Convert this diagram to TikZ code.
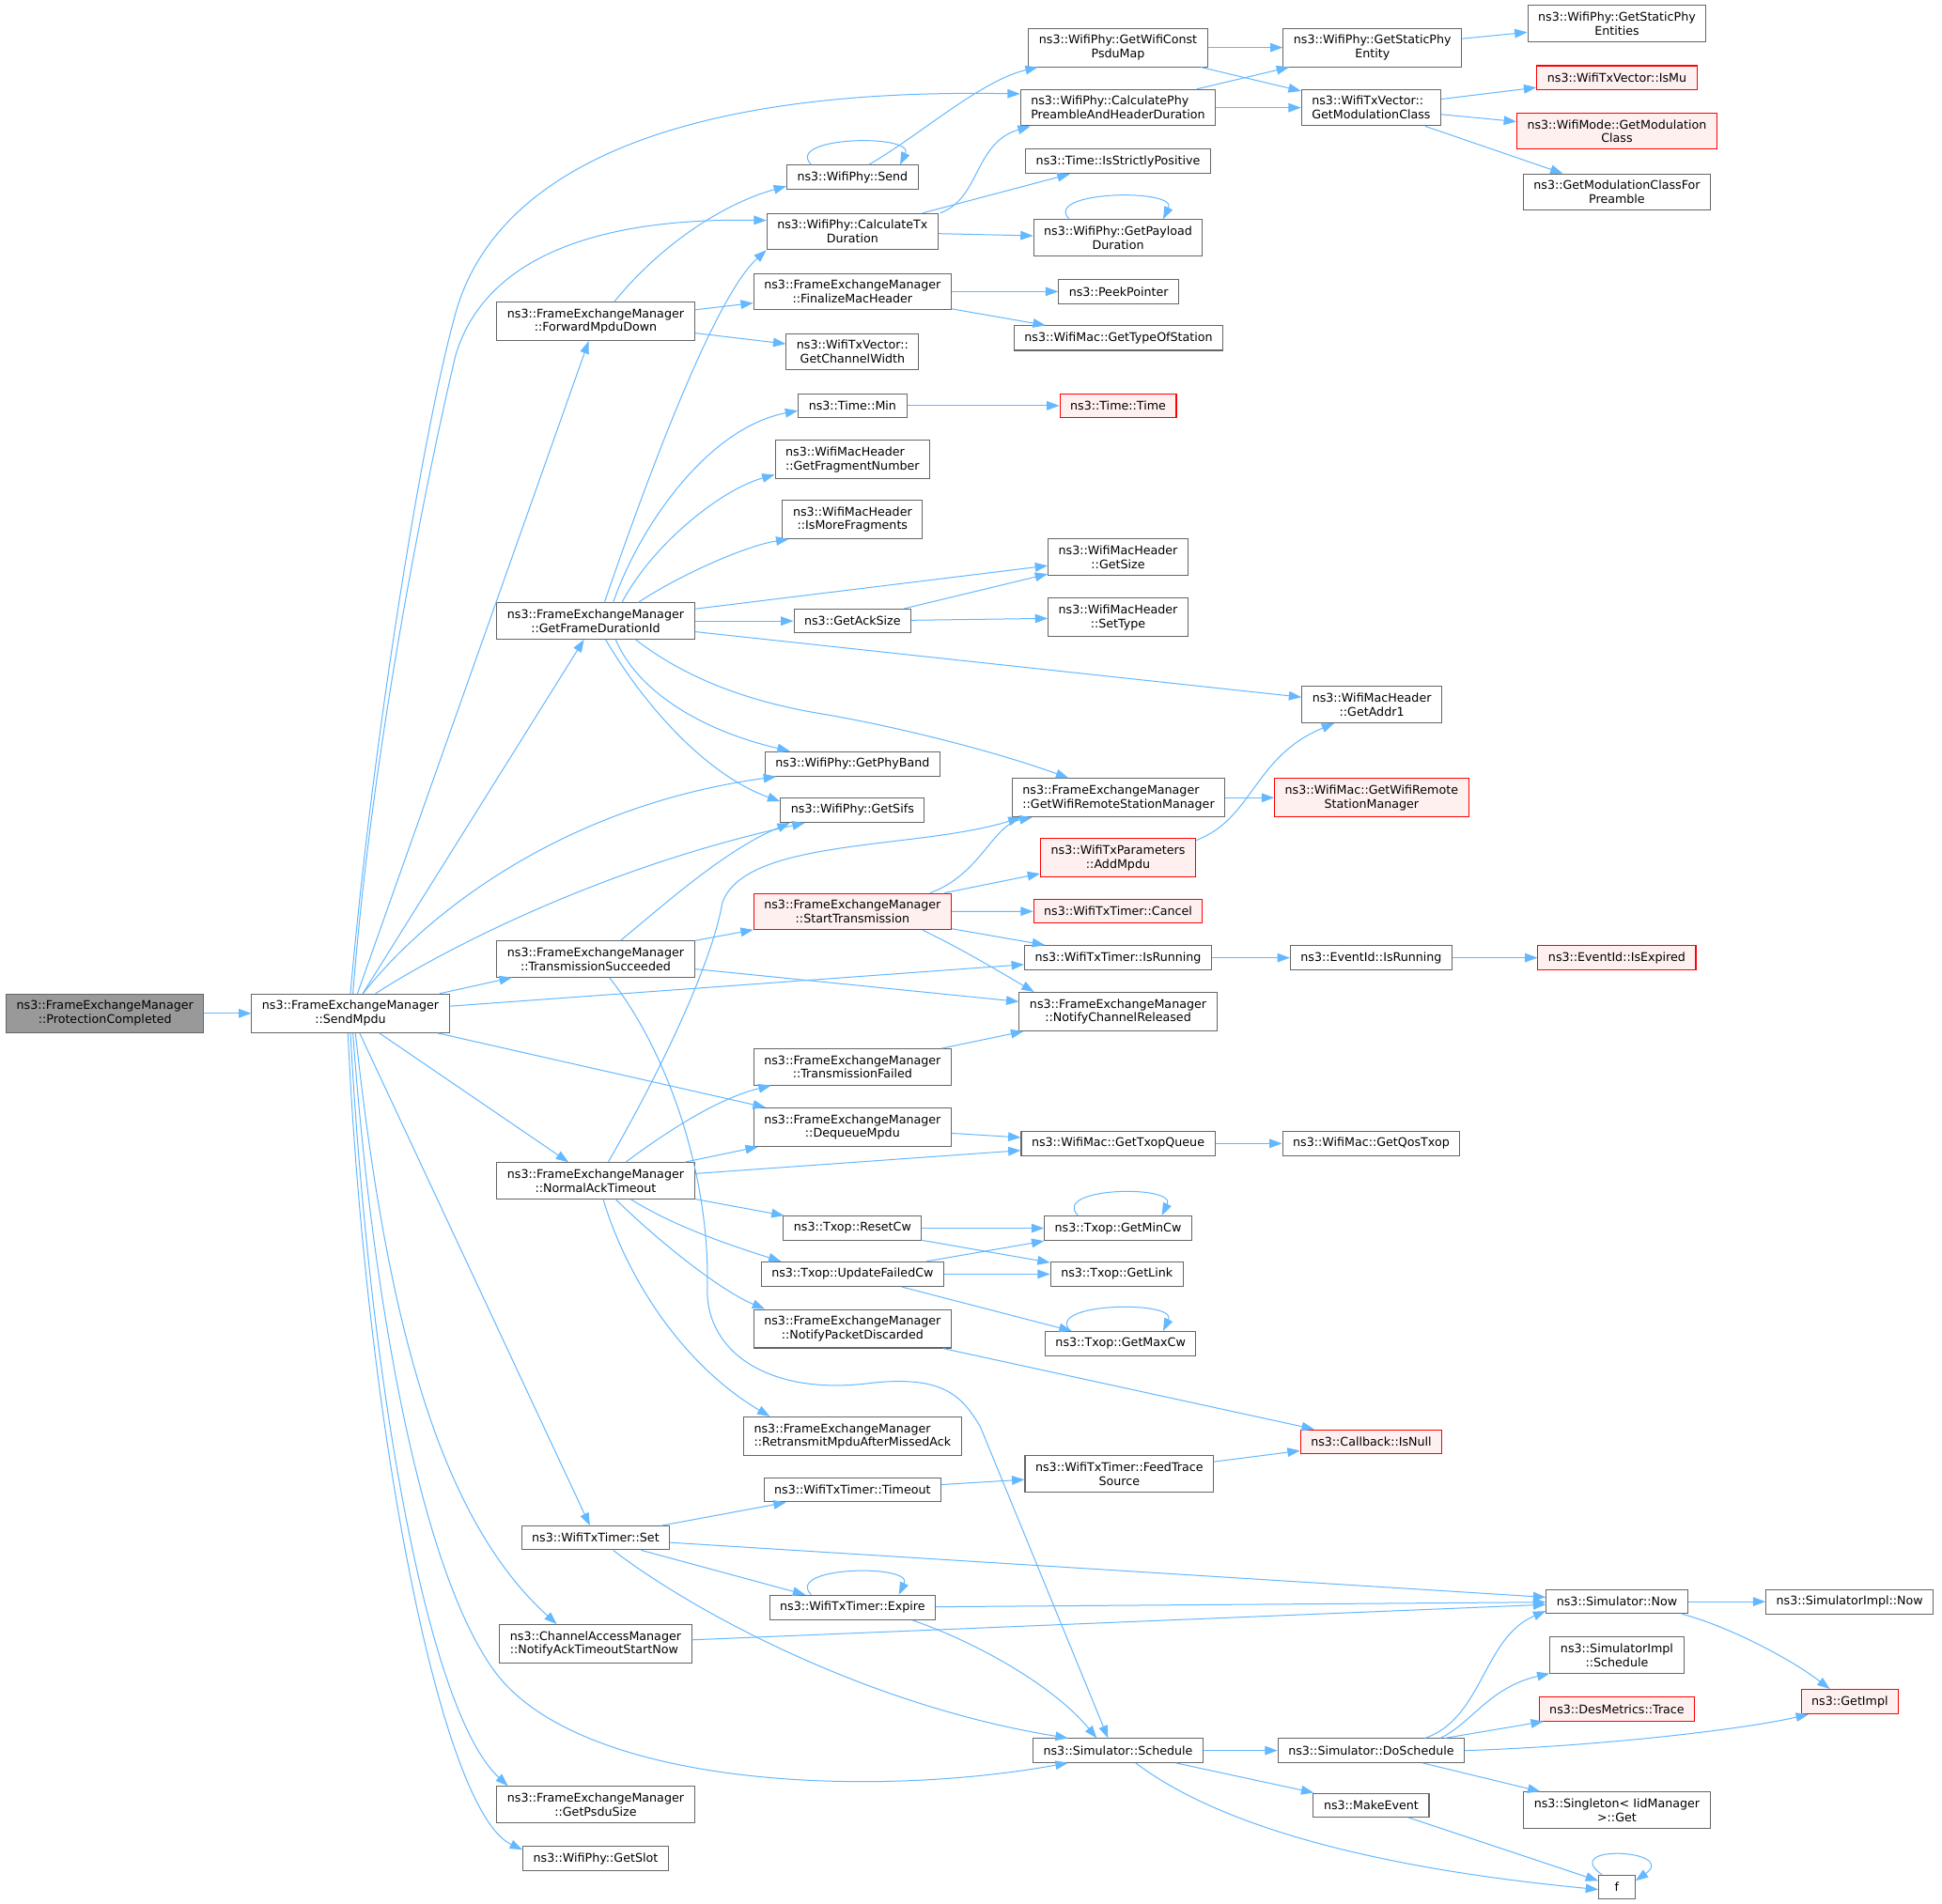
\documentclass[tikz,border=0pt]{standalone}
\usepackage{fontspec}
\setmainfont{DejaVu Sans}
\usetikzlibrary{arrows.meta}
\definecolor{edgeblue}{HTML}{63B8FF}
\definecolor{boxgray}{HTML}{666666}
\definecolor{rootgray}{HTML}{999999}
\definecolor{redfill}{HTML}{FFF0F0}
\definecolor{redline}{HTML}{FF0000}
\begin{document}
\begin{tikzpicture}[x=0.9906pt,y=-0.9906pt]
		\tikzstyle{fn}=[draw=boxgray, line width=0.8pt, fill=white, inner xsep=8.3pt, inner ysep=5.2pt, minimum height=19pt, align=center, font=\fontsize{9.5}{11.1}\selectfont]
		\tikzstyle{fnl}=[fn, align=left]
		\tikzstyle{fnred}=[fn, draw=redline, fill=redfill]
		\tikzstyle{fnroot}=[fn, fill=rootgray]
		\tikzstyle{call}=[draw=edgeblue, line width=0.75pt, -{Triangle[length=10pt,width=7.2pt]}]
		\fill[white] (0,0) rectangle (1565,1534.7);
		\useasboundingbox (0,0) rectangle (1565,1534.7);

		% Caller and SendMpdu
		\node[fnroot] (PC) at (84.6,816.8) {ns3::FrameExchangeManager\\::ProtectionCompleted};
		\node[fn] (SM) at (282.4,816.8) {ns3::FrameExchangeManager\\::SendMpdu};

		% Column 2
		\node[fn] (FMD) at (480,259) {ns3::FrameExchangeManager\\::ForwardMpduDown};
		\node[fn] (GFD) at (480,500.6) {ns3::FrameExchangeManager\\::GetFrameDurationId};
		\node[fn] (TS) at (480,773) {ns3::FrameExchangeManager\\::TransmissionSucceeded};
		\node[fn] (NAT) at (480,951.7) {ns3::FrameExchangeManager\\::NormalAckTimeout};
		\node[fn] (WTS) at (480,1239.6) {ns3::WifiTxTimer::Set};
		\node[fnl] (CAM) at (480,1325) {ns3::ChannelAccessManager\\::NotifyAckTimeoutStartNow};
		\node[fn] (GPS) at (480,1454.5) {ns3::FrameExchangeManager\\::GetPsduSize};
		\node[fn] (GSlot) at (480,1498) {ns3::WifiPhy::GetSlot};

		% Column 3
		\node[fn] (Send) at (687,143) {ns3::WifiPhy::Send};
		\node[fn] (CTD) at (687,186.7) {ns3::WifiPhy::CalculateTx\\Duration};
		\node[fn] (FMH) at (687,235) {ns3::FrameExchangeManager\\::FinalizeMacHeader};
		\node[fn] (GCW) at (687,283.5) {ns3::WifiTxVector::\\GetChannelWidth};
		\node[fn] (TMin) at (687,327) {ns3::Time::Min};
		\node[fnl] (GFN) at (687,370.5) {ns3::WifiMacHeader\\::GetFragmentNumber};
		\node[fn] (IMF) at (687,418.7) {ns3::WifiMacHeader\\::IsMoreFragments};
		\node[fn] (GAS) at (687,500.6) {ns3::GetAckSize};
		\node[fn] (GPB) at (687,615.7) {ns3::WifiPhy::GetPhyBand};
		\node[fn] (GSifs) at (687,653) {ns3::WifiPhy::GetSifs};
		\node[fnred] (ST) at (687,734.7) {ns3::FrameExchangeManager\\::StartTransmission};
		\node[fn] (TF) at (687,860) {ns3::FrameExchangeManager\\::TransmissionFailed};
		\node[fn] (DM) at (687,908.5) {ns3::FrameExchangeManager\\::DequeueMpdu};
		\node[fn] (RCW) at (687,990) {ns3::Txop::ResetCw};
		\node[fn] (UFC) at (687,1027) {ns3::Txop::UpdateFailedCw};
		\node[fn] (NPD) at (687,1071) {ns3::FrameExchangeManager\\::NotifyPacketDiscarded};
		\node[fnl] (RMA) at (687,1157.6) {ns3::FrameExchangeManager\\::RetransmitMpduAfterMissedAck};
		\node[fn] (TTO) at (687,1201) {ns3::WifiTxTimer::Timeout};
		\node[fn] (EXP) at (687,1295.7) {ns3::WifiTxTimer::Expire};

		% Column 4
		\node[fn] (GWCPM) at (901,38.3) {ns3::WifiPhy::GetWifiConst\\PsduMap};
		\node[fnl] (CPPH) at (901,86.8) {ns3::WifiPhy::CalculatePhy\\PreambleAndHeaderDuration};
		\node[fn] (ISP) at (901,130) {ns3::Time::IsStrictlyPositive};
		\node[fn] (GPD) at (901,191.6) {ns3::WifiPhy::GetPayload\\Duration};
		\node[fn] (PP) at (901.5,235) {ns3::PeekPointer};
		\node[fn] (GTOS) at (901.4,272.5) {ns3::WifiMac::GetTypeOfStation};
		\node[fnred] (TT) at (901,327) {ns3::Time::Time};
		\node[fn] (GSize) at (901,449) {ns3::WifiMacHeader\\::GetSize};
		\node[fn] (SetType) at (901,497.7) {ns3::WifiMacHeader\\::SetType};
		\node[fnl] (GWRSM) at (901.4,643) {ns3::FrameExchangeManager\\::GetWifiRemoteStationManager};
		\node[fnred] (AddMpdu) at (901,691.5) {ns3::WifiTxParameters\\::AddMpdu};
		\node[fnred] (Cancel) at (901,734.6) {ns3::WifiTxTimer::Cancel};
		\node[fn] (IsRun) at (901,772) {ns3::WifiTxTimer::IsRunning};
		\node[fn] (NCR) at (901,815.4) {ns3::FrameExchangeManager\\::NotifyChannelReleased};
		\node[fn] (GTQ) at (901,921.7) {ns3::WifiMac::GetTxopQueue};
		\node[fn] (GMinCw) at (901,990) {ns3::Txop::GetMinCw};
		\node[fn] (GLink) at (900,1027) {ns3::Txop::GetLink};
		\node[fn] (GMaxCw) at (903,1083) {ns3::Txop::GetMaxCw};
		\node[fn] (FTS) at (902,1188) {ns3::WifiTxTimer::FeedTrace\\Source};
		\node[fn] (SS) at (901,1411) {ns3::Simulator::Schedule};

		% Column 5
		\node[fn] (GSPE) at (1106,38.3) {ns3::WifiPhy::GetStaticPhy\\Entity};
		\node[fnl] (GMC) at (1105,86.8) {ns3::WifiTxVector::\\GetModulationClass};
		\node[fn] (GA1) at (1105.5,568) {ns3::WifiMacHeader\\::GetAddr1};
		\node[fnred] (GWRSM2) at (1105.3,643) {ns3::WifiMac::GetWifiRemote\\StationManager};
		\node[fn] (EIR) at (1105,772) {ns3::EventId::IsRunning};
		\node[fn] (GQT) at (1105,921.7) {ns3::WifiMac::GetQosTxop};
		\node[fnred] (IsNull) at (1105,1162) {ns3::Callback::IsNull};
		\node[fn] (DoSched) at (1105,1411) {ns3::Simulator::DoSchedule};
		\node[fn] (ME) at (1105,1455) {ns3::MakeEvent};

		% Column 6
		\node[fn] (GSPEs) at (1303,18.9) {ns3::WifiPhy::GetStaticPhy\\Entities};
		\node[fnred] (IsMu) at (1303,62.6) {ns3::WifiTxVector::IsMu};
		\node[fnred] (GMC2) at (1303,105.8) {ns3::WifiMode::GetModulation\\Class};
		\node[fn] (GMCFP) at (1303,154.8) {ns3::GetModulationClassFor\\Preamble};
		\node[fnred] (IsExp) at (1303,772) {ns3::EventId::IsExpired};
		\node[fn] (SNow) at (1303,1291) {ns3::Simulator::Now};
		\node[fn] (SIS) at (1303,1334) {ns3::SimulatorImpl\\::Schedule};
		\node[fnred] (DMT) at (1303,1377.6) {ns3::DesMetrics::Trace};
		\node[fn] (SGet) at (1303,1459) {ns3::Singleton< IidManager\\>::Get};
		\node[fn, minimum width=29pt] (f) at (1303,1521) {f};

		% Column 7
		\node[fn] (SIN) at (1490.6,1291) {ns3::SimulatorImpl::Now};
		\node[fnred] (GImpl) at (1490.7,1371.6) {ns3::GetImpl};

		% Straight calls
		\draw[call] (PC) -- (SM);
		\draw[call] (SM) -- (FMD);
		\draw[call] (SM) -- (GFD);
		\draw[call] (SM) -- (TS);
		\draw[call] (SM) -- (IsRun);
		\draw[call] (SM) -- (DM);
		\draw[call] (SM) -- (NAT);
		\draw[call] (SM) -- (WTS);
		\draw[call] (FMD) -- (FMH);
		\draw[call] (FMD) -- (GCW);
		\draw[call] (CTD) -- (ISP);
		\draw[call] (CTD) -- (GPD);
		\draw[call] (GWCPM) -- (GSPE);
		\draw[call] (GWCPM) -- (GMC);
		\draw[call] (CPPH) -- (GSPE);
		\draw[call] (CPPH) -- (GMC);
		\draw[call] (GSPE) -- (GSPEs);
		\draw[call] (GMC) -- (IsMu);
		\draw[call] (GMC) -- (GMC2);
		\draw[call] (GMC) -- (GMCFP);
		\draw[call] (FMH) -- (PP);
		\draw[call] (FMH) -- (GTOS);
		\draw[call] (TMin) -- (TT);
		\draw[call] (GFD) -- (GSize);
		\draw[call] (GFD) -- (GAS);
		\draw[call] (GFD) -- (GA1);
		\draw[call] (GAS) -- (GSize);
		\draw[call] (GAS) -- (SetType);
		\draw[call] (GWRSM) -- (GWRSM2);
		\draw[call] (TS) -- (ST);
		\draw[call] (TS) -- (NCR);
		\draw[call] (ST) -- (AddMpdu);
		\draw[call] (ST) -- (Cancel);
		\draw[call] (ST) -- (IsRun);
		\draw[call] (IsRun) -- (EIR);
		\draw[call] (EIR) -- (IsExp);
		\draw[call] (NAT) -- (DM);
		\draw[call] (NAT) -- (GTQ);
		\draw[call] (NAT) -- (RCW);
		\draw[call] (TF) -- (NCR);
		\draw[call] (DM) -- (GTQ);
		\draw[call] (GTQ) -- (GQT);
		\draw[call] (RCW) -- (GMinCw);
		\draw[call] (RCW) -- (GLink);
		\draw[call] (UFC) -- (GMinCw);
		\draw[call] (UFC) -- (GLink);
		\draw[call] (UFC) -- (GMaxCw);
		\draw[call] (NPD) -- (IsNull);
		\draw[call] (TTO) -- (FTS);
		\draw[call] (FTS) -- (IsNull);
		\draw[call] (WTS) -- (TTO);
		\draw[call] (WTS) -- (SNow);
		\draw[call] (WTS) -- (EXP);
		\draw[call] (EXP) -- (SNow);
		\draw[call] (CAM) -- (SNow);
		\draw[call] (SS) -- (DoSched);
		\draw[call] (SS) -- (ME);
		\draw[call] (ME) -- (f);
		\draw[call] (DoSched) -- (DMT);
		\draw[call] (DoSched) -- (SGet);
		\draw[call] (SNow) -- (SIN);

		% Curved calls from SendMpdu
		\draw[call] (SM.north) .. controls (300,600) and (340,350) .. (367,253) .. controls (395,150) and (520,70) .. ([yshift=11]CPPH.west);
		\draw[call] ([xshift=2]SM.north) .. controls (300,600) and (345,380) .. (367,287) .. controls (385,225) and (450,175) .. ([yshift=9]CTD.west);
		\draw[call] ([xshift=10]SM.north) .. controls (340,740) and (450,650) .. ([xshift=-61]GPB.south);
		\draw[call] ([xshift=20]SM.north) .. controls (350,770) and (480,700) .. ([xshift=-38]GSifs.south);
		\draw[call] ([xshift=4]SM.south) .. controls (310,1050) and (350,1220) .. ([xshift=-31]CAM.north);
		\draw[call] ([xshift=2]SM.south) .. controls (300,1050) and (340,1270) .. (400,1349) .. controls (470,1440) and (700,1450) .. ([xshift=-40]SS.south);
		\draw[call] (SM.south) .. controls (298,1120) and (345,1380) .. ([xshift=-70]GPS.north);
		\draw[call] ([xshift=-2]SM.south) .. controls (295,1150) and (355,1460) .. ([yshift=7]GSlot.west);

		% Upper calls
		\draw[call] ([xshift=15]FMD.north) .. controls (530,200) and (580,165) .. ([yshift=-7]Send.west);
		\draw[call] ([xshift=-33]Send.north) .. controls +(-22,-23) and +(12,-25) .. ([xshift=38]Send.north);
		\draw[call] ([xshift=13]Send.north) .. controls (740,110) and (790,65) .. ([xshift=-64]GWCPM.south);
		\draw[call] ([xshift=70]CTD.north) .. controls (790,160) and (785,115) .. ([xshift=-70]CPPH.south);
		\draw[call] ([xshift=-39]GPD.north) .. controls +(-22,-23) and +(12,-25) .. ([xshift=36]GPD.north);

		% GetFrameDurationId
		\draw[call] ([xshift=7]GFD.north) .. controls (520,390) and (575,240) .. (CTD.south west);
		\draw[call] ([xshift=14]GFD.north) .. controls (515,425) and (570,345) .. ([yshift=-4]TMin.west);
		\draw[call] ([xshift=21]GFD.north) .. controls (525,440) and (580,395) .. ([yshift=-12]GFN.west);
		\draw[call] ([xshift=34]GFD.north) .. controls (545,465) and (600,440) .. ([xshift=-51]IMF.south);
		\draw[call] ([xshift=32]GFD.south) .. controls (550,545) and (600,565) .. (660,575) .. controls (720,585) and (800,605) .. ([xshift=-40]GWRSM.north);
		\draw[call] ([xshift=16]GFD.south) .. controls (515,560) and (570,590) .. ([xshift=-50]GPB.north);
		\draw[call] ([xshift=8]GFD.south) .. controls (520,570) and (570,625) .. ([yshift=7]GSifs.west);
		\draw[call] ([yshift=14]AddMpdu.east) .. controls (1010,660) and (1010,610) .. ([xshift=-30]GA1.south);

		% TransmissionSucceeded and StartTransmission
		\draw[call] ([xshift=20]TS.north) .. controls (540,725) and (585,685) .. ([xshift=-50]GSifs.south);
		\draw[call] ([xshift=11]TS.south) .. controls (540,850) and (572,950) .. (570,1037) .. controls (568,1090) and (620,1125) .. (700,1115) .. controls (760,1108) and (775,1125) .. (790,1150) -- ([xshift=-8]SS.north);
		\draw[call] ([xshift=62]ST.north) .. controls (790,705) and (800,665) .. ([xshift=-69]GWRSM.south);
		\draw[call] ([xshift=56]ST.south) .. controls (775,765) and (800,780) .. ([xshift=-67]NCR.north);

		% NormalAckTimeout
		\draw[call] ([xshift=10]NAT.north) .. controls (540,850) and (575,770) .. (582,728) .. controls (600,675) and (740,685) .. ([xshift=-78]GWRSM.south);
		\draw[call] ([xshift=24]NAT.north) .. controls (540,910) and (580,885) .. ([xshift=-65]TF.south);
		\draw[call] ([xshift=28]NAT.south) .. controls (530,980) and (560,995) .. ([xshift=-57]UFC.north);
		\draw[call] ([xshift=16]NAT.south) .. controls (530,1000) and (580,1040) .. ([xshift=-70]NPD.north);
		\draw[call] ([xshift=6]NAT.south) .. controls (505,1030) and (550,1100) .. ([xshift=-66]RMA.north);
		\draw[call] ([xshift=-32]GMinCw.north) .. controls +(-22,-23) and +(12,-25) .. ([xshift=35]GMinCw.north);
		\draw[call] ([xshift=-40]GMaxCw.north) .. controls +(-22,-23) and +(12,-25) .. ([xshift=34]GMaxCw.north);

		% Timer and scheduler
		\draw[call] ([xshift=14]WTS.south) .. controls (560,1300) and (700,1375) .. ([xshift=-40]SS.north);
		\draw[call] ([xshift=-33]EXP.north) .. controls +(-22,-23) and +(12,-25) .. ([xshift=37]EXP.north);
		\draw[call] ([xshift=48]EXP.south) .. controls (790,1325) and (850,1360) .. ([xshift=-17]SS.north);
		\draw[call] ([xshift=14]SS.south) .. controls (980,1470) and (1100,1505) .. ([yshift=-2]f.west);
		\draw[call] ([xshift=-12]f.north) .. controls +(-35,-25) and +(35,-25) .. ([yshift=5]f.east);
		\draw[call] ([xshift=43]DoSched.north) .. controls (1195,1385) and (1195,1320) .. ([yshift=-7.5]SNow.west);
		\draw[call] ([xshift=55]DoSched.north) .. controls (1185,1390) and (1200,1360) .. (SIS.south west);
		\draw[call] (DoSched.east) .. controls (1280,1408) and (1400,1395) .. ([xshift=-33]GImpl.south);
		\draw[call] ([xshift=52]SNow.south) .. controls (1390,1310) and (1440,1335) .. ([xshift=-16]GImpl.north);
	\end{tikzpicture}
\end{document}
